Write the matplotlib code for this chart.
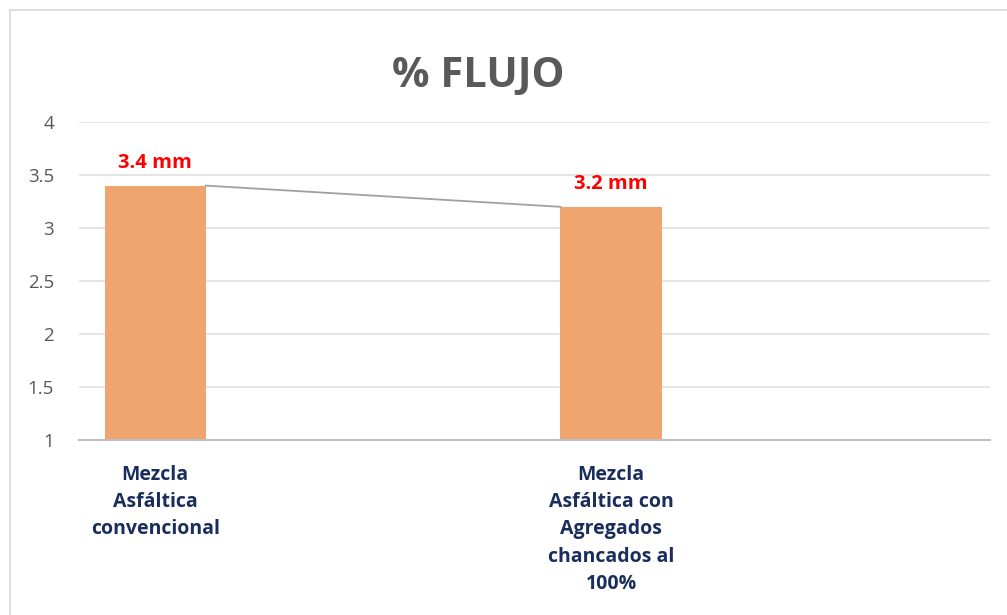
import matplotlib.pyplot as plt
from matplotlib.patches import Rectangle

categories = ["Mezcla\nAsfáltica\nconvencional",
              "Mezcla\nAsfáltica con\nAgregados\nchancados al\n100%"]
values = [3.4, 3.2]
value_labels = ["3.4 mm", "3.2 mm"]
yticks = [1, 1.5, 2, 2.5, 3, 3.5, 4]

plt.rcParams['font.family'] = ['Open Sans', 'DejaVu Sans']

fig = plt.figure(figsize=(10.07, 6.15), dpi=100)
ax = fig.add_axes([0.0785, 0.2846, 0.9045, 0.517])

# outer chart border
fig.patches.append(Rectangle((10 / 1007, -0.01), 1.02, 1 - 10 / 615 + 0.01,
                             transform=fig.transFigure, fill=False,
                             edgecolor='#D9D9D9', linewidth=1.2))

x = [0, 1]
width = 0.222
ax.bar(x, values, width, color='#F0A56E', zorder=2)

# series line between bar tops
ax.plot([x[0] + width / 2, x[1] - width / 2], values, color='#A0A0A0',
        linewidth=1.3, zorder=3)

for xi, v, lab in zip(x, values, value_labels):
    ax.text(xi, v + 0.12, lab, ha='center', va='bottom', color='#FF0000',
            fontsize=14.5, fontweight='bold')

ax.set_xlim(-0.167, 1.831)
ax.set_ylim(1, 4)
ax.set_yticks(yticks)
ax.set_yticklabels([f"{t:g}" for t in yticks])
ax.yaxis.grid(True, color='#E3E3E3', linewidth=1.3, zorder=0)
ax.set_axisbelow(True)
for s in ['top', 'right', 'left']:
    ax.spines[s].set_visible(False)
ax.spines['bottom'].set_color('#BFBFBF')
ax.spines['bottom'].set_linewidth(1.5)
ax.tick_params(axis='y', length=0, labelsize=13.5, labelcolor='#595959', pad=18)
ax.tick_params(axis='x', length=0)
ax.set_xticks(x)
ax.set_xticklabels(categories, fontsize=14, fontweight='bold',
                   color='#1A2E5E', linespacing=1.48)
ax.tick_params(axis='x', pad=18)

fig.text(0.475, 0.875, "% FLUJO", ha='center', va='center', fontsize=30,
         fontweight='bold', color='#595959')

fig.savefig("out.png", dpi=100)
